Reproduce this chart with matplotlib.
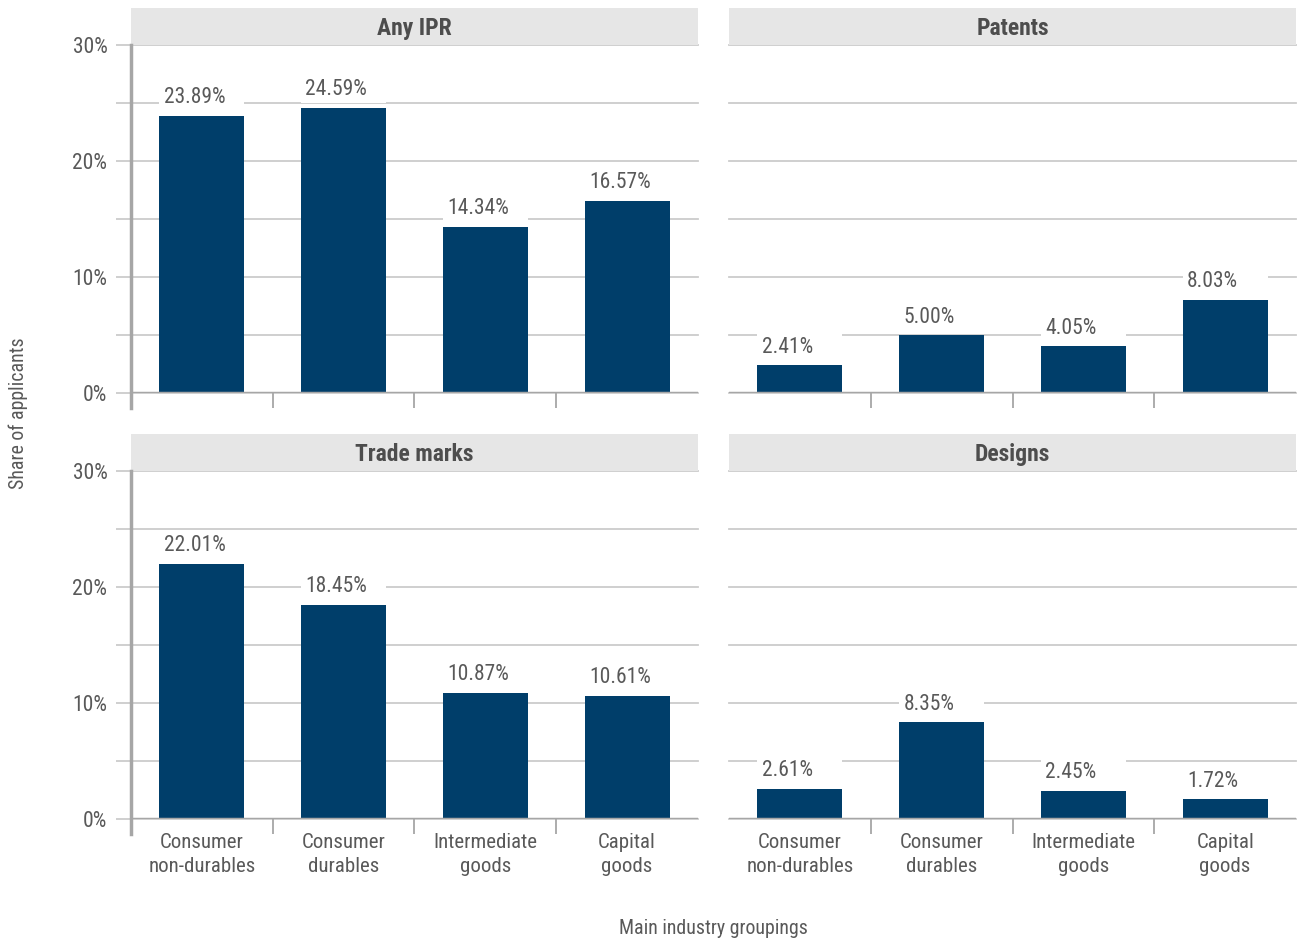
import matplotlib
matplotlib.use('Agg')
import matplotlib.pyplot as plt
from matplotlib import font_manager
from matplotlib.patches import Rectangle

categories = ['Consumer\nnon-durables', 'Consumer\ndurables', 'Intermediate\ngoods', 'Capital\ngoods']
panel_titles = ['Any IPR', 'Patents', 'Trade marks', 'Designs']
any_ipr = [23.89, 24.59, 14.34, 16.57]
patents = [2.41, 5.00, 4.05, 8.03]
trade_marks = [22.01, 18.45, 10.87, 10.61]
designs = [2.61, 8.35, 2.45, 1.72]
y_ticks = [0, 5, 10, 15, 20, 25, 30]
y_tick_labels = ['0%', '', '10%', '', '20%', '', '30%']

bar_color = '#003e6a'
grid_color = '#cccccc'
axis_color = '#a6a6a6'
text_color = '#595959'

# pick a narrow font if there is one
installed = {f.name for f in font_manager.fontManager.ttflist}
family = 'Liberation Sans'
for name in ['Liberation Sans Narrow', 'Roboto Condensed', 'Arial Narrow']:
    if name in installed:
        family = name
        break
plt.rcParams['font.family'] = [family, 'DejaVu Sans']

W, H = 1297, 941
fig = plt.figure(figsize=(W / 100, H / 100), dpi=100)

# axes boxes in pixels: left, top, right, bottom
boxes = [(131, 45, 698, 393), (729, 45, 1296, 393),
         (131, 471, 698, 819), (729, 471, 1296, 819)]
series = [any_ipr, patents, trade_marks, designs]

for k, (box, vals, title) in enumerate(zip(boxes, series, panel_titles)):
    l, t, r, b = box
    ax = fig.add_axes([l / W, 1 - b / H, (r - l) / W, (b - t) / H])
    is_left = k % 2 == 0
    is_bottom = k >= 2

    ax.set_xlim(-0.5, 3.5)
    ax.set_ylim(0, 30)
    ax.set_axisbelow(True)
    for y in y_ticks:
        ax.axhline(y, color=grid_color, lw=1.3, zorder=0, clip_on=False)
    ax.axhline(0, color=axis_color, lw=2.5, zorder=4)

    xs = range(len(vals))
    ax.bar(xs, vals, width=0.6, color=bar_color, zorder=3)
    for x, v in zip(xs, vals):
        ax.add_patch(Rectangle((x - 0.3, v + 0.4), 0.6, 2.4, facecolor='white',
                               edgecolor='none', zorder=2))
        ax.text(x - 0.27, v + 1.55, '%.2f%%' % v, ha='left', va='center',
                fontsize=15.5, color=text_color, zorder=5)

    for s in ['top', 'right', 'bottom']:
        ax.spines[s].set_visible(False)
    if is_left:
        ax.spines['left'].set_color(axis_color)
        ax.spines['left'].set_linewidth(2.5)
        ax.spines['left'].set_bounds(-1.3, 30)
        ax.set_yticks(y_ticks)
        ax.set_yticklabels(y_tick_labels)
        ax.tick_params(axis='y', length=11, width=1.3, color=grid_color,
                       pad=6, labelsize=15.5, labelcolor=text_color)
    else:
        ax.spines['left'].set_visible(False)
        ax.set_yticks([])

    # boundary ticks between categories
    ax.set_xticks([0.5, 1.5, 2.5], minor=True)
    ax.tick_params(axis='x', which='minor', length=11, width=1.3, color=axis_color)
    ax.set_xticks(list(xs))
    if is_bottom:
        ax.set_xticklabels(categories, linespacing=1.35)
    else:
        ax.set_xticklabels([])
    ax.tick_params(axis='x', which='major', length=0, pad=10, labelsize=15,
                   labelcolor=text_color)

    # facet strip
    strip_h = 37 / (b - t)
    ax.add_patch(Rectangle((0, 1), 1, strip_h, transform=ax.transAxes,
                           facecolor='#e6e6e6', edgecolor='none', clip_on=False))
    ax.text(0.5, 1 + strip_h / 2 - 2 / (b - t), title, transform=ax.transAxes,
            ha='center', va='center', fontsize=17, fontweight='bold', color='#4d4d4d')

fig.text(18 / W, 1 - 413 / H, 'Share of applicants', rotation=90, ha='center',
         va='center', fontsize=14.3, color=text_color)
fig.text(713 / W, 1 - 929 / H, 'Main industry groupings', ha='center',
         va='center', fontsize=14.3, color=text_color)

fig.savefig('out.png', dpi=100)
